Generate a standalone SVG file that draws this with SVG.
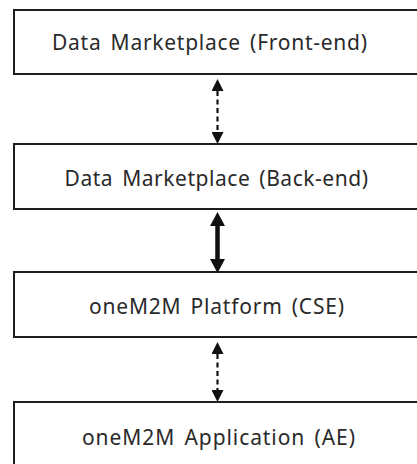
<svg xmlns="http://www.w3.org/2000/svg" width="417" height="464" viewBox="0 0 417 464">
<style>
.box{fill:#fff;stroke:#1e1e1e;stroke-width:2}
.lbl{font-family:"Noto Sans","Liberation Sans",sans-serif;font-size:21px;fill:#2a2a2a;word-spacing:3px}
.dash{fill:none;stroke:#111;stroke-width:2.2;stroke-dasharray:5 3.5}
.solid{fill:none;stroke:#111;stroke-width:4.5}
</style>
<defs>
<marker id="ah" markerUnits="userSpaceOnUse" viewBox="0 0 12 12" refX="0" refY="6" markerWidth="12" markerHeight="12" orient="auto-start-reverse">
<path d="M0,0 L12,6 L0,12 z" fill="#111"/>
</marker>
<marker id="ahb" markerUnits="userSpaceOnUse" viewBox="0 0 14 15" refX="0" refY="7.5" markerWidth="14" markerHeight="15" orient="auto-start-reverse">
<path d="M0,0 L14,7.5 L0,15 z" fill="#111"/>
</marker>
</defs>
<rect width="417" height="464" fill="#fff"/>
<g id="front-end">
<rect class="box" x="14" y="10" width="420" height="64"/>
<text class="lbl" x="52" y="50" textLength="315" lengthAdjust="spacing">Data Marketplace (Front-end)</text>
</g>
<g id="back-end">
<rect class="box" x="14" y="144" width="420" height="65"/>
<text class="lbl" x="64.5" y="186" textLength="303.5" lengthAdjust="spacing">Data Marketplace (Back-end)</text>
</g>
<g id="cse">
<rect class="box" x="14" y="272" width="420" height="65"/>
<text class="lbl" x="89" y="314" textLength="255" lengthAdjust="spacing">oneM2M Platform (CSE)</text>
</g>
<g id="ae">
<rect class="box" x="14" y="402" width="420" height="65"/>
<text class="lbl" x="82" y="445" textLength="273" lengthAdjust="spacing">oneM2M Application (AE)</text>
</g>
<g id="connectors">
<path class="dash" d="M217.5,91 V132" marker-start="url(#ah)" marker-end="url(#ah)"/>
<path class="solid" d="M217.5,226 V259" marker-start="url(#ahb)" marker-end="url(#ahb)"/>
<path class="dash" d="M217.5,354 V390" marker-start="url(#ah)" marker-end="url(#ah)"/>
</g>
</svg>
